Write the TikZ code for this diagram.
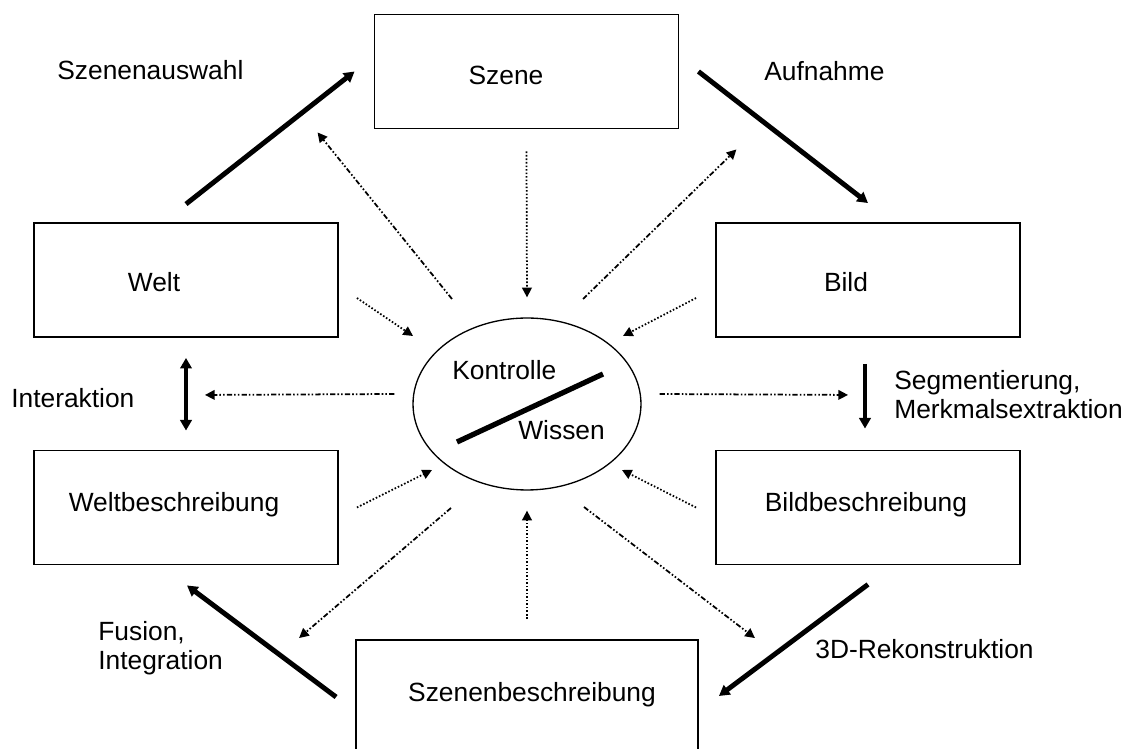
\documentclass[tikz,border=0pt]{standalone}
\usepackage{fontspec}
\setmainfont{Liberation Sans}
\usetikzlibrary{arrows.meta,shapes.geometric,calc}

\begin{document}
\begin{tikzpicture}[x=0.02cm,y=-0.02cm,  % ------ Bildanalyse-Zyklus ------
    font=\fontsize{15}{16.7}\selectfont,
    box/.style={draw,line width=1.1pt,minimum width=6.08cm,minimum height=2.28cm,inner sep=0pt},
    txt/.style={inner sep=0pt,anchor=base},
    lbl/.style={inner sep=0pt,anchor=base west,align=left},
    flow/.style={line width=2.8pt,-{Triangle[length=6pt,width=6.5pt]}},
    info/.style={line width=1pt,dash pattern=on 0.9pt off 1.1pt,-{Triangle[length=5.5pt,width=5.5pt]}},
    ctrl/.style={line width=1pt,dash pattern=on 3pt off 1.2pt on 0.9pt off 1.2pt on 0.9pt off 1.2pt,-{Triangle[length=5.5pt,width=5.5pt]}}]
    \useasboundingbox (0,0) rectangle (1134,749);
    % Kaesten
    \node[box] (szene) at (526.5,71.5) {};
    \node[box] (welt) at (186,280) {};
    \node[box] (bild) at (868,280) {};
    \node[box] (weltb) at (186,507.5) {};
    \node[box] (bildb) at (868,507.5) {};
    \node[box,minimum width=6.84cm] (szeneb) at (527,697) {};
    \node[draw,ellipse,line width=0.75pt,minimum width=4.56cm,minimum height=3.44cm,inner sep=0pt] (kw) at (527,404) {};
    \node[txt] (szene-t) at (506,85) {Szene};
    \node[txt] (welt-t) at (154,292) {Welt};
    \node[txt] (bild-t) at (846,292) {Bild};
    \node[txt] (weltb-t) at (174,512) {Weltbeschreibung};
    \node[txt] (bildb-t) at (866,512) {Bildbeschreibung};
    \node[txt] (szeneb-t) at (532,702) {Szenenbeschreibung};
    \node[lbl] (kontrolle) at (452,380) {Kontrolle};
    \node[lbl] (wissen) at (518,440) {Wissen};
    \draw[line width=3pt] ($(kw)+(-70,38)$) -- ($(kw)+(76,-30)$);
    % Hauptzyklus
    \draw[flow] ($(welt.north)+(0,-18)$) -- ($(szene.west)+(-19,0)$);
    \draw[flow] ($(szene.east)+(19,0)$) -- ($(bild.north)+(0,-19)$);
    \draw[flow] ($(bild.south)+(-3,26)$) -- ($(bildb.north)+(-3,-21)$);
    \draw[flow] ($(bildb.south)+(0,19)$) -- ($(szeneb.east)+(20,-1)$);
    \draw[flow] ($(szeneb.west)+(-19,0)$) -- ($(weltb.south)+(1,20)$);
    \draw[flow,{Triangle[length=6pt,width=6.5pt]}-{Triangle[length=6pt,width=6.5pt]}] ($(welt.south)+(0,20)$) -- ($(weltb.north)+(0,-19)$);
    \node[lbl] (auswahl) at (57,80) {Szenenauswahl};
    \node[lbl] (aufnahme) at (764,81) {Aufnahme};
    \node[lbl] (interaktion) at (11,408) {Interaktion};
    \node[lbl] (segment) at (894,419) {Segmentierung,\\Merkmalsextraktion};
    \node[lbl] (rekon) at (815,659) {3D-Rekonstruktion};
    \node[lbl] (fusion) at (98,670) {Fusion,\\Integration};
    % Wissen hinein
    \draw[info] ($(welt.east)+(18,18)$) -- ($(kw)+(-114,-68)$);
    \draw[info] ($(bild.west)+(-19,18)$) -- ($(kw)+(96,-68)$);
    \draw[info] ($(weltb.east)+(18,0)$) -- ($(kw)+(-95,66)$);
    \draw[info] ($(bildb.west)+(-19,0)$) -- ($(kw)+(95,66)$);
    \draw[info] ($(szene.south)+(0,22)$) -- ($(kw.north)+(0,-20)$);
    \draw[info] ($(szeneb.north)+(0,-20)$) -- ($(kw.south)+(0,20)$);
    % Kontrolle hinaus
    \draw[ctrl] ($(kw)+(-75,-105)$) -- ($(szene.south west)+(-56,3)$);
    \draw[ctrl] ($(kw)+(56,-105)$) -- ($(szene.south east)+(57,20)$);
    \draw[ctrl] ($(kw.west)+(-18,-10)$) -- ($(welt.south)+(19,57)$);
    \draw[ctrl] ($(kw.east)+(18,-10)$) -- ($(bild.south)+(-20,57)$);
    \draw[ctrl] ($(kw)+(-76,104)$) -- ($(szeneb.north west)+(-56,-1)$);
    \draw[ctrl] ($(kw)+(57,103)$) -- ($(szeneb.north east)+(56,-1)$);
\end{tikzpicture}
\end{document}
